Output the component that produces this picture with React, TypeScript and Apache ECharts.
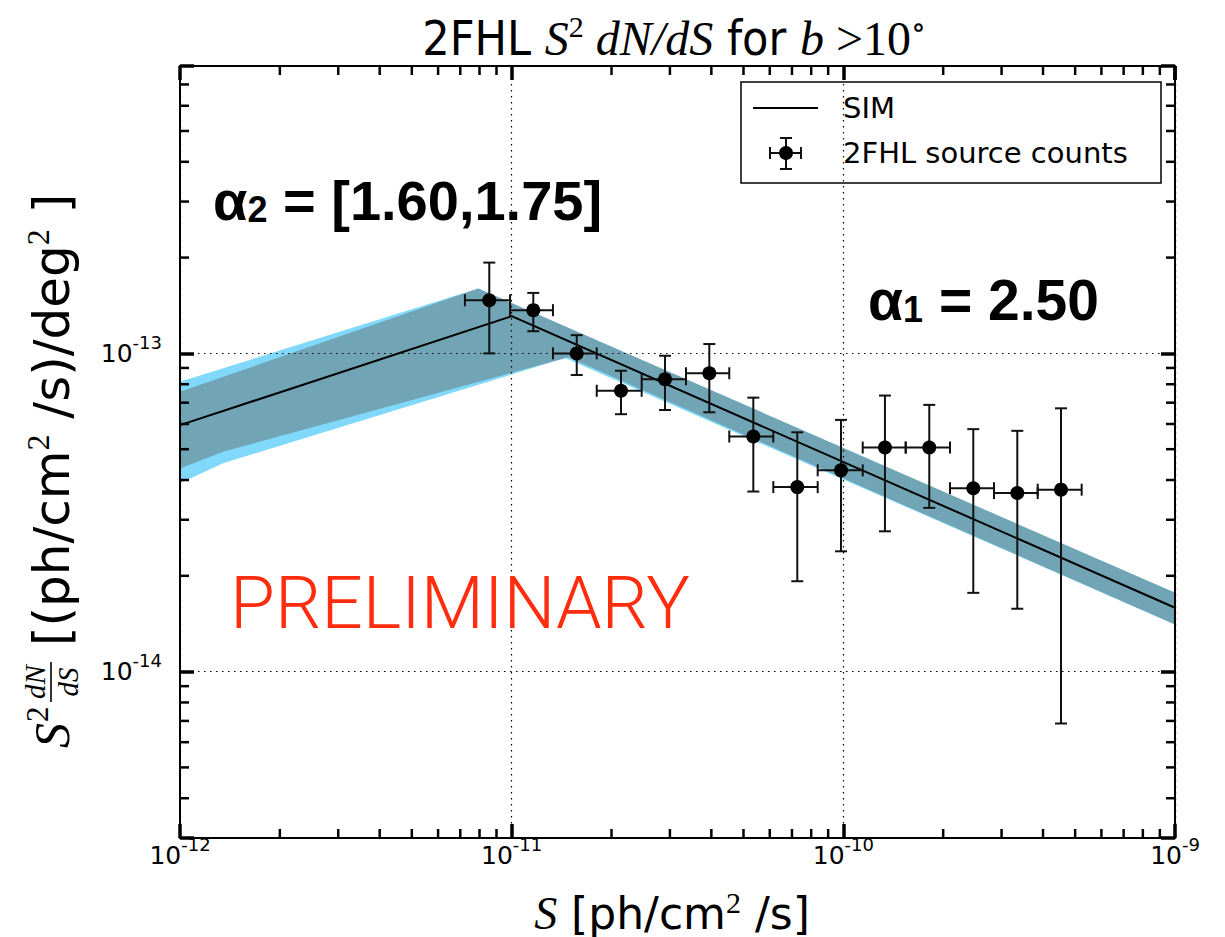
import React, { useEffect, useRef } from "react";
import * as echarts from "echarts";

// ---------- axis ranges ----------
const xRange = [1e-12, 1e-9];
const yRange = [3e-15, 8e-13];

// ---------- 2FHL source counts (bin centres, bin edges, values, error bounds) ----------
const fluxCenters = [
  8.56e-12, 1.162e-11, 1.571e-11, 2.136e-11, 2.9e-11, 3.944e-11, 5.353e-11,
  7.264e-11, 9.84e-11, 1.335e-10, 1.816e-10, 2.465e-10, 3.346e-10, 4.532e-10,
];
const binEdges = [
  7.23e-12, 9.89e-12, 1.332e-11, 1.805e-11, 2.466e-11, 3.354e-11, 4.53e-11,
  6.15e-11, 8.369e-11, 1.144e-10, 1.542e-10, 2.097e-10, 2.846e-10, 3.855e-10, 5.231e-10,
];
const sourceCounts = [
  1.469e-13, 1.367e-13, 1.0e-13, 7.63e-14, 8.29e-14, 8.66e-14, 5.48e-14,
  3.8e-14, 4.29e-14, 5.06e-14, 5.06e-14, 3.77e-14, 3.64e-14, 3.73e-14,
];
const countsHigh = [
  1.929e-13, 1.549e-13, 1.141e-13, 8.82e-14, 9.83e-14, 1.07e-13, 7.26e-14,
  5.65e-14, 6.18e-14, 7.37e-14, 6.89e-14, 5.78e-14, 5.71e-14, 6.72e-14,
];
const countsLow = [
  1.0e-13, 1.174e-13, 8.55e-14, 6.44e-14, 6.64e-14, 6.53e-14, 3.68e-14,
  1.923e-14, 2.388e-14, 2.76e-14, 3.27e-14, 1.768e-14, 1.576e-14, 6.87e-15,
];

// ---------- SIM model line ----------
const simLine = [
  [1e-12, 5.95e-14],
  [1e-11, 1.309e-13],
  [1e-9, 1.587e-14],
];

// ---------- SIM bands ----------
const outerBandUpper = [
  [1e-12, 8.15e-14],
  [7.93e-12, 1.599e-13],
  [1e-9, 1.768e-14],
];
const outerBandLower = [
  [1e-12, 3.91e-14],
  [1.349e-12, 4.52e-14],
  [1.449e-11, 9.67e-14],
  [1e-9, 1.407e-14],
];
const innerBandUpper = [
  [1e-12, 7.58e-14],
  [7.93e-12, 1.599e-13],
  [1e-9, 1.768e-14],
];
const innerBandLower = [
  [1e-12, 4.35e-14],
  [1.349e-12, 4.91e-14],
  [1.482e-11, 9.72e-14],
  [1e-9, 1.407e-14],
];

// ---------- minor tick positions ----------
const xMinorTicks = [
  2e-12, 3e-12, 4e-12, 5e-12, 6e-12, 7e-12, 8e-12, 9e-12,
  2e-11, 3e-11, 4e-11, 5e-11, 6e-11, 7e-11, 8e-11, 9e-11,
  2e-10, 3e-10, 4e-10, 5e-10, 6e-10, 7e-10, 8e-10, 9e-10,
];
const yMinorTicks = [
  4e-15, 5e-15, 6e-15, 7e-15, 8e-15, 9e-15,
  2e-14, 3e-14, 4e-14, 5e-14, 6e-14, 7e-14, 8e-14, 9e-14,
  2e-13, 3e-13, 4e-13, 5e-13, 6e-13, 7e-13,
];

const SANS = "'DejaVu Sans', sans-serif";
const SERIF = "'Liberation Serif', 'DejaVu Serif', serif";
const NARROW = "'Liberation Sans Narrow', 'DejaVu Sans Condensed', 'Arial Narrow', sans-serif";
const BOLD = "'Liberation Sans', Arial, sans-serif";

const CYAN = "#80d9fb";
const TEAL = "#71a4b4";

const powerLabel = (v: number) => {
  const e = Math.log10(v);
  const r = Math.round(e);
  if (Math.abs(e - r) > 1e-6) return "";
  return `{b|10}{s|${r}}`;
};

const tickRich = {
  b: { fontSize: 25, fontFamily: SANS, color: "#000", lineHeight: 28 },
  s: { fontSize: 18, fontFamily: SANS, color: "#000", lineHeight: 20, padding: [0, 0, 22, 0] },
};

const splitStyle = { show: true, lineStyle: { color: "#000", width: 1.2, type: [1.5, 4.5] } };

function makeAxis(position: string, range: number[], isX: boolean, showLabel: boolean, grid: boolean) {
  return {
    type: "log",
    logBase: 10,
    position,
    min: range[0],
    max: range[1],
    z: 3,
    axisLine: { show: true, onZero: false, lineStyle: { color: "#000", width: 2 } },
    axisTick: { show: true, inside: true, length: 14, lineStyle: { color: "#000", width: 3.5 } },
    axisLabel: showLabel
      ? {
          show: true,
          formatter: powerLabel,
          rich: tickRich,
          margin: isX ? 3 : 18,
          showMinLabel: true,
          showMaxLabel: true,
        }
      : { show: false },
    splitLine: grid ? splitStyle : { show: false },
    minorTick: { show: false },
  };
}

function bandSeries(upper: number[][], lower: number[][], color: string, z: number) {
  return {
    type: "custom",
    xAxisIndex: 0,
    yAxisIndex: 0,
    z,
    silent: true,
    data: [[1e-11, 1e-13]],
    renderItem: (_p: any, api: any) => {
      const pts = [...upper, ...lower.slice().reverse()].map((p) => api.coord(p));
      return { type: "polygon", shape: { points: pts }, style: { fill: color, stroke: "none" } };
    },
  };
}

export default function App() {
  const ref = useRef<HTMLDivElement>(null);

  useEffect(() => {
    const chart = echarts.init(ref.current!, undefined, { renderer: "svg", width: 1225, height: 937 });

    const errorData = fluxCenters.map((x, i) => [
      x,
      sourceCounts[i],
      binEdges[i],
      binEdges[i + 1],
      countsLow[i],
      countsHigh[i],
    ]);

    const option: any = {
      animation: false,
      backgroundColor: "#fff",
      grid: { left: 180, right: 50, top: 66, bottom: 99, containLabel: false, outerBoundsMode: "none" },
      xAxis: [
        makeAxis("bottom", xRange, true, true, true),
        makeAxis("top", xRange, true, false, false),
      ],
      yAxis: [
        makeAxis("left", yRange, false, true, true),
        makeAxis("right", yRange, false, false, false),
      ],
      series: [
        bandSeries(outerBandUpper, outerBandLower, CYAN, 1),
        bandSeries(innerBandUpper, innerBandLower, TEAL, 1),
        {
          type: "line",
          name: "SIM",
          xAxisIndex: 0,
          yAxisIndex: 0,
          data: simLine,
          symbol: "none",
          showSymbol: false,
          silent: true,
          z: 4,
          lineStyle: { color: "#000", width: 2 },
        },
        {
          type: "custom",
          name: "2FHL source counts",
          xAxisIndex: 0,
          yAxisIndex: 0,
          z: 5,
          silent: true,
          encode: { x: 0, y: 1 },
          data: errorData,
          renderItem: (_p: any, api: any) => {
            const x = api.value(0);
            const y = api.value(1);
            const c = api.coord([x, y]);
            const xl = api.coord([api.value(2), y])[0];
            const xh = api.coord([api.value(3), y])[0];
            const yl = api.coord([x, api.value(4)])[1];
            const yh = api.coord([x, api.value(5)])[1];
            const cap = 6;
            const st = { stroke: "#111", lineWidth: 2, fill: "none" };
            return {
              type: "group",
              children: [
                { type: "line", shape: { x1: xl, y1: c[1], x2: xh, y2: c[1] }, style: st },
                { type: "line", shape: { x1: c[0], y1: yl, x2: c[0], y2: yh }, style: st },
                { type: "line", shape: { x1: xl, y1: c[1] - cap, x2: xl, y2: c[1] + cap }, style: st },
                { type: "line", shape: { x1: xh, y1: c[1] - cap, x2: xh, y2: c[1] + cap }, style: st },
                { type: "line", shape: { x1: c[0] - cap, y1: yl, x2: c[0] + cap, y2: yl }, style: st },
                { type: "line", shape: { x1: c[0] - cap, y1: yh, x2: c[0] + cap, y2: yh }, style: st },
                { type: "circle", shape: { cx: c[0], cy: c[1], r: 7 }, style: { fill: "#000" } },
              ],
            };
          },
        },
        {
          type: "custom",
          xAxisIndex: 0,
          yAxisIndex: 0,
          z: 6,
          silent: true,
          data: xMinorTicks.map((v) => [v, yRange[0]]),
          renderItem: (_p: any, api: any) => {
            const v = api.value(0);
            const b = api.coord([v, yRange[0]]);
            const t = api.coord([v, yRange[1]]);
            const st = { stroke: "#000", lineWidth: 2.5 };
            return {
              type: "group",
              children: [
                { type: "line", shape: { x1: b[0], y1: b[1], x2: b[0], y2: b[1] - 9 }, style: st },
                { type: "line", shape: { x1: t[0], y1: t[1], x2: t[0], y2: t[1] + 9 }, style: st },
              ],
            };
          },
        },
        {
          type: "custom",
          xAxisIndex: 0,
          yAxisIndex: 0,
          z: 6,
          silent: true,
          data: yMinorTicks.map((v) => [xRange[0], v]),
          renderItem: (_p: any, api: any) => {
            const v = api.value(1);
            const l = api.coord([xRange[0], v]);
            const r = api.coord([xRange[1], v]);
            const st = { stroke: "#000", lineWidth: 2.5 };
            return {
              type: "group",
              children: [
                { type: "line", shape: { x1: l[0], y1: l[1], x2: l[0] + 9, y2: l[1] }, style: st },
                { type: "line", shape: { x1: r[0], y1: r[1], x2: r[0] - 9, y2: r[1] }, style: st },
              ],
            };
          },
        },
      ],
      graphic: [
        // title
        {
          type: "text",
          z: 100,
          x: 674,
          y: 38,
          style: {
            text: "{n|2FHL }{m|S}{sup|2}{m| dN/dS}{n| for }{m|b}{r| >10}{sup|∘}",
            align: "center",
            textAlign: "center",
            verticalAlign: "middle",
            textVerticalAlign: "middle",
            rich: {
              n: { fontSize: 48, fontFamily: NARROW, fill: "#000", color: "#000", lineHeight: 52 },
              m: { fontSize: 48, fontFamily: SERIF, fontStyle: "italic", fill: "#000", color: "#000", lineHeight: 52 },
              r: { fontSize: 48, fontFamily: SERIF, fill: "#000", color: "#000", lineHeight: 52 },
              sup: { fontSize: 30, fontFamily: SERIF, fill: "#000", color: "#000", lineHeight: 26, padding: [0, 0, 24, 0] },
            },
          },
        },
        // x axis title
        {
          type: "text",
          z: 100,
          x: 672,
          y: 913,
          style: {
            text: "{m|S}{n| [ph/cm}{s|2}{n| /s]}",
            align: "center",
            textAlign: "center",
            verticalAlign: "middle",
            textVerticalAlign: "middle",
            rich: {
              m: { fontSize: 46, fontFamily: SERIF, fontStyle: "italic", fill: "#000", color: "#000", lineHeight: 44 },
              n: { fontSize: 44, fontFamily: SANS, fill: "#000", color: "#000", lineHeight: 44 },
              s: { fontSize: 30, fontFamily: SERIF, fill: "#000", color: "#000", lineHeight: 20, padding: [0, 0, 22, 0] },
            },
          },
        },
        // y axis title (rotated)
        {
          type: "group",
          z: 100,
          x: 52,
          y: 748,
          rotation: Math.PI / 2,
          children: [
            {
              type: "text",
              style: { text: "S", x: 0, y: 0, fontSize: 50, fontFamily: SERIF, fontStyle: "italic", fill: "#000", align: "left", verticalAlign: "middle" },
            },
            {
              type: "text",
              style: { text: "2", x: 26, y: -15, fontSize: 31, fontFamily: SERIF, fill: "#000", align: "left", verticalAlign: "middle" },
            },
            {
              type: "text",
              style: { text: "dN", x: 66, y: -17, fontSize: 29, fontFamily: SERIF, fontStyle: "italic", fill: "#000", align: "center", verticalAlign: "middle" },
            },
            { type: "line", shape: { x1: 46, y1: -1, x2: 86, y2: -1 }, style: { stroke: "#000", lineWidth: 1.6 } },
            {
              type: "text",
              style: { text: "dS", x: 66, y: 16, fontSize: 29, fontFamily: SERIF, fontStyle: "italic", fill: "#000", align: "center", verticalAlign: "middle" },
            },
            {
              type: "text",
              style: {
                text: "{n|[(ph/cm}{s|2}{n| /s)/deg}{s|2}{n| ]}",
                x: 102,
                y: 0,
                align: "left",
                verticalAlign: "middle",
                rich: {
                  n: { fontSize: 50, fontFamily: SANS, fill: "#000", color: "#000", lineHeight: 54 },
                  s: { fontSize: 32, fontFamily: SERIF, fill: "#000", color: "#000", lineHeight: 30, padding: [0, 0, 28, 0] },
                },
              },
            },
          ],
        },
        // annotations
        {
          type: "text",
          z: 100,
          x: 213,
          y: 200,
          style: {
            text: "{a|α}{b|2}{a| = [1.60,1.75]}",
            align: "left",
            verticalAlign: "middle",
            rich: {
              a: { fontSize: 56, fontFamily: BOLD, fontWeight: "bold", fill: "#000", color: "#000", lineHeight: 62 },
              b: { fontSize: 36, fontFamily: BOLD, fontWeight: "bold", fill: "#000", color: "#000", lineHeight: 38, padding: [18, 0, 0, 0] },
            },
          },
        },
        {
          type: "text",
          z: 100,
          x: 868,
          y: 300,
          style: {
            text: "{a|α}{b|1}{a| = 2.50}",
            align: "left",
            verticalAlign: "middle",
            rich: {
              a: { fontSize: 57, fontFamily: BOLD, fontWeight: "bold", fill: "#000", color: "#000", lineHeight: 62 },
              b: { fontSize: 36, fontFamily: BOLD, fontWeight: "bold", fill: "#000", color: "#000", lineHeight: 38, padding: [18, 0, 0, 0] },
            },
          },
        },
        {
          type: "text",
          z: 100,
          x: 230,
          y: 603,
          style: {
            text: "PRELIMINARY",
            fontSize: 73,
            fontWeight: 300,
            fontFamily: "Roboto, 'Liberation Sans', sans-serif",
            fill: "#ff2d0e",
            align: "left",
            verticalAlign: "middle",
          },
        },
        // legend
        {
          type: "group",
          z: 100,
          children: [
            { type: "rect", shape: { x: 741, y: 82, width: 420, height: 101 }, style: { fill: "#fff", stroke: "#000", lineWidth: 1.5 } },
            { type: "line", shape: { x1: 753, y1: 108, x2: 818, y2: 108 }, style: { stroke: "#000", lineWidth: 2 } },
            { type: "text", style: { text: "SIM", x: 843, y: 108, fontSize: 29, fontFamily: SANS, fill: "#000", align: "left", verticalAlign: "middle" } },
            { type: "line", shape: { x1: 770, y1: 153, x2: 801, y2: 153 }, style: { stroke: "#111", lineWidth: 2 } },
            { type: "line", shape: { x1: 770, y1: 147, x2: 770, y2: 159 }, style: { stroke: "#111", lineWidth: 2 } },
            { type: "line", shape: { x1: 801, y1: 147, x2: 801, y2: 159 }, style: { stroke: "#111", lineWidth: 2 } },
            { type: "line", shape: { x1: 786, y1: 138, x2: 786, y2: 169 }, style: { stroke: "#111", lineWidth: 2 } },
            { type: "line", shape: { x1: 780, y1: 138, x2: 792, y2: 138 }, style: { stroke: "#111", lineWidth: 2 } },
            { type: "line", shape: { x1: 780, y1: 169, x2: 792, y2: 169 }, style: { stroke: "#111", lineWidth: 2 } },
            { type: "circle", shape: { cx: 786, cy: 153, r: 7 }, style: { fill: "#000" } },
            { type: "text", style: { text: "2FHL source counts", x: 843, y: 153, fontSize: 29, fontFamily: SANS, fill: "#000", align: "left", verticalAlign: "middle" } },
          ],
        },
      ],
    };

    chart.setOption(option);
    return () => chart.dispose();
  }, []);

  return (
    <div
      ref={ref}
      style={{ position: "fixed", left: 0, top: 0, width: 1225, height: 937, background: "#fff" }}
    />
  );
}
